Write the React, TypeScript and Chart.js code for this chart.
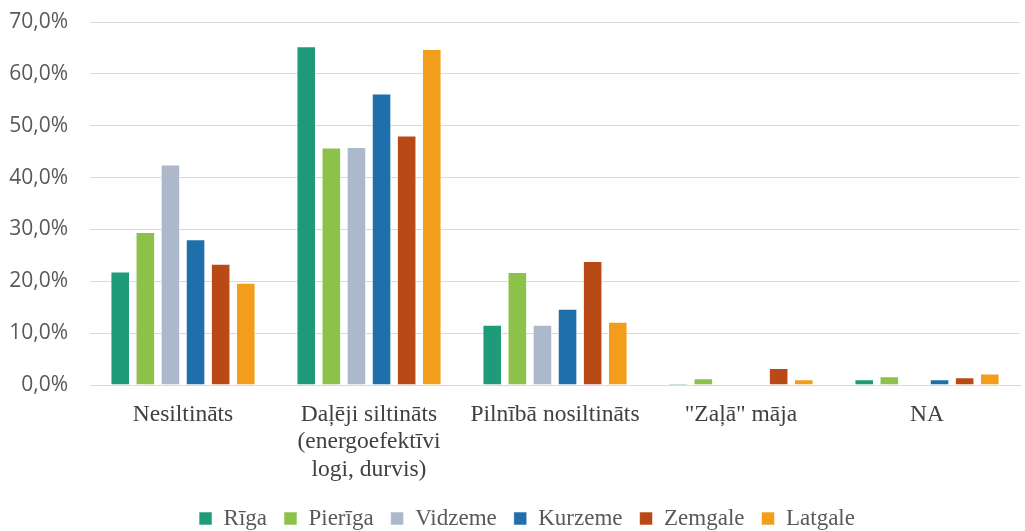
import React, { useEffect, useRef } from "react";
import { Chart, registerables } from "chart.js";

Chart.register(...registerables);

const categories: (string | string[])[] = [
  "Nesiltināts",
  ["Daļēji siltināts", "(energoefektīvi", "logi, durvis)"],
  "Pilnībā nosiltināts",
  "\"Zaļā\" māja",
  "NA",
];

const seriesNames = ["Rīga", "Pierīga", "Vidzeme", "Kurzeme", "Zemgale", "Latgale"];
const seriesColors = ["#1f9b79", "#8cc24a", "#adb9cb", "#1f6faa", "#b94a18", "#f29e1c"];

const riga = [0.219, 0.653, 0.116, 0.003, 0.011];
const pieriga = [0.295, 0.458, 0.218, 0.013, 0.017];
const vidzeme = [0.425, 0.459, 0.116, 0.0, 0.0];
const kurzeme = [0.281, 0.562, 0.147, 0.0, 0.011];
const zemgale = [0.234, 0.481, 0.239, 0.033, 0.015];
const latgale = [0.197, 0.648, 0.122, 0.011, 0.022];

const seriesValues = [riga, pieriga, vidzeme, kurzeme, zemgale, latgale];

const yTicks = [0, 0.1, 0.2, 0.3, 0.4, 0.5, 0.6, 0.7];

const legendShift = {
  id: "legendShift",
  afterLayout(chart: any) {
    const lg = chart.legend;
    if (lg) {
      lg.top += 9;
      lg.bottom += 9;
      lg.left += 17;
      lg.right += 17;
    }
  },
};

export default function App() {
  const ref = useRef<HTMLCanvasElement | null>(null);

  useEffect(() => {
    document.body.style.margin = "0";
    const canvas = ref.current;
    if (!canvas) return;
    const chart = new Chart(canvas, {
      type: "bar",
      data: {
        labels: categories,
        datasets: seriesNames.map((name, i) => ({
          label: name,
          data: seriesValues[i],
          backgroundColor: seriesColors[i],
          borderColor: "rgba(255,255,255,0.55)",
          borderWidth: 1,
          categoryPercentage: 0.81,
          barPercentage: 0.78,
        })),
      },
      options: {
        responsive: false,
        animation: false,
        layout: { padding: { top: 22, right: 5, left: 0, bottom: 0 } },
        plugins: {
          tooltip: { enabled: false },
          legend: {
            position: "bottom",
            labels: {
              font: { family: "'Liberation Serif', serif", size: 23 },
              color: "#595959",
              boxWidth: 13,
              boxHeight: 13,
              padding: 17,
            },
          },
        },
        scales: {
          x: {
            grid: { display: false, drawTicks: false },
            border: { display: true, color: "#d9d9d9", width: 1 },
            ticks: {
              font: { family: "'Liberation Serif', serif", size: 23.5, lineHeight: 1.17 },
              color: "#404040",
              maxRotation: 0,
              autoSkip: false,
              padding: 16,
            },
            afterFit: (scale: any) => {
              scale.height = 96;
            },
          },
          y: {
            min: 0,
            max: 0.7,
            afterBuildTicks: (scale: any) => {
              scale.ticks = yTicks.map((v) => ({ value: v }));
            },
            grid: {
              color: "#d9d9d9",
              lineWidth: 1,
              drawTicks: true,
              tickLength: 22,
              tickColor: "rgba(0,0,0,0)",
            },
            border: { display: false },
            ticks: {
              font: { family: "'Open Sans', sans-serif", size: 21 },
              color: "#595959",
              padding: 0,
              callback: (v: any) => (Number(v) * 100).toFixed(1).replace(".", ",") + "%",
            },
            afterFit: (scale: any) => {
              scale.width = 90;
            },
          },
        },
      },
      plugins: [legendShift],
    });
    return () => chart.destroy();
  }, []);

  return (
    <div style={{ width: 1025, height: 531 }}>
      <canvas ref={ref} width={1025} height={531} />
    </div>
  );
}
